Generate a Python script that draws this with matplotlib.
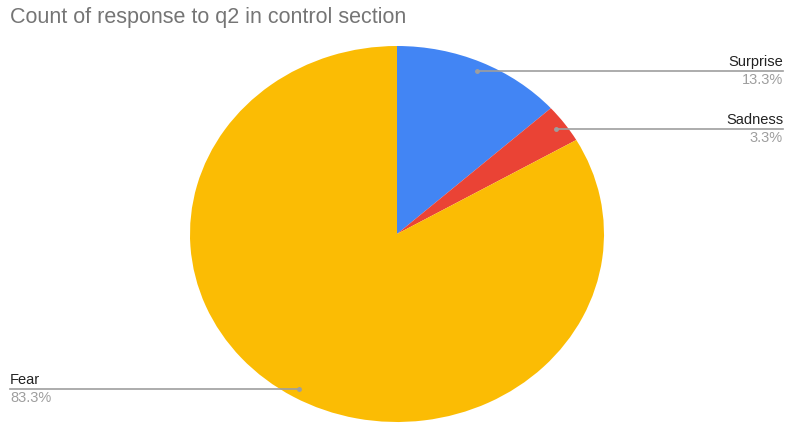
import numpy as np
import matplotlib.pyplot as plt
import matplotlib.transforms as mtransforms

plt.rcParams['font.family'] = ['Liberation Sans', 'DejaVu Sans']

# data
labels = ["Surprise", "Sadness", "Fear"]
counts = [4, 1, 25]
colors = ["#4285F4", "#EA4335", "#FBBC04"]

W, H = 788, 428
fig = plt.figure(figsize=(W / 100, H / 100), dpi=100)

# pie is stretched in the reference (ellipse), so axes box sets the shape
ax = fig.add_axes([190 / W, (H - 422) / H, 414 / W, 376 / H])
wedges, _ = ax.pie(counts, colors=colors, startangle=90, counterclock=False,
                   radius=1.0, wedgeprops=dict(linewidth=0))
ax.set_aspect('auto')
ax.set_xlim(-1, 1)
ax.set_ylim(-1, 1)
ax.axis('off')

fig.text(10 / W, 1 - 18 / H, "Count of response to q2 in control section",
         fontsize=15.5, color="#757575", va='center', ha='left')

total = sum(counts)
pct = [100 * c / total for c in counts]
trans = mtransforms.blended_transform_factory(fig.transFigure, ax.transData)
line_col = "#9e9e9e"

for w, lab, p in zip(wedges, labels, pct):
    ang = np.deg2rad((w.theta1 + w.theta2) / 2)
    dx, dy = 0.95 * np.cos(ang), 0.95 * np.sin(ang)
    ax.plot([dx], [dy], 'o', ms=2.5, color=line_col, zorder=5)
    # dot position in figure fraction
    fx = fig.transFigure.inverted().transform(ax.transData.transform((dx, dy)))[0]
    if dx > 0:
        ex, ha = 783 / W, 'right'
    else:
        ex, ha = 10 / W, 'left'
    line = plt.Line2D([fx, ex], [dy, dy], transform=trans, color=line_col,
                      lw=1.2, clip_on=False, zorder=4)
    fig.add_artist(line)
    off_up = mtransforms.offset_copy(trans, fig=fig, y=2, units='dots')
    off_dn = mtransforms.offset_copy(trans, fig=fig, y=-2, units='dots')
    fig.text(ex, dy, lab, transform=off_up, ha=ha, va='bottom',
             fontsize=10.5, color="#222222")
    fig.text(ex, dy, f"{p:.1f}%", transform=off_dn, ha=ha, va='top',
             fontsize=10.5, color="#9e9e9e")

fig.savefig("out.png", dpi=100)
